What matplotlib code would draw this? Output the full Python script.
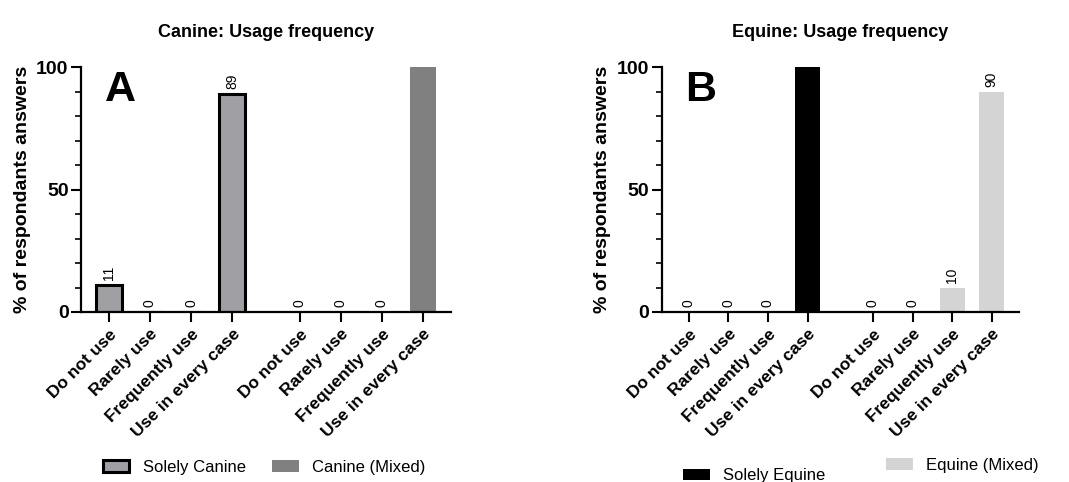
import numpy as np
import matplotlib
matplotlib.use("Agg")
import matplotlib.pyplot as plt
from matplotlib.patches import Patch
from matplotlib.ticker import MultipleLocator

plt.rcParams['font.family'] = ['Liberation Sans', 'DejaVu Sans']

categories = ['Do not use', 'Rarely use', 'Frequently use', 'Use in every case']

canine_solely = [11, 0, 0, 89]
canine_mixed = [0, 0, 0, 100]
equine_solely = [0, 0, 0, 100]
equine_mixed = [0, 0, 10, 90]

GAP = 1.65
x1 = np.arange(4)
x2 = np.arange(4) + 3 + GAP


def draw(ax, solely, mixed, c_solely, c_mixed, edge_solely, title, letter):
    ax.bar(x1, solely, width=0.64, color=c_solely,
           edgecolor='black' if edge_solely else c_solely,
           linewidth=2.2 if edge_solely else 0)
    ax.bar(x2, mixed, width=0.64, color=c_mixed, linewidth=0)

    for xs, vals in [(x1, solely), (x2, mixed)]:
        for x, v in zip(xs, vals):
            if v < 100:
                ax.text(x, v + 2, str(v), rotation=90, ha='center', va='bottom',
                        fontsize=10)

    ax.set_xlim(-0.68, x2[-1] + 0.68)
    ax.set_ylim(0, 100)
    ax.set_xticks(np.concatenate([x1, x2]))
    ax.set_xticklabels(categories * 2, rotation=45, ha='right',
                       rotation_mode='anchor', fontsize=12.5, fontweight='bold')
    ax.set_yticks([0, 50, 100])
    ax.yaxis.set_minor_locator(MultipleLocator(10))
    ax.tick_params(axis='y', labelsize=14, width=1.5, length=7, pad=2)
    ax.tick_params(axis='y', which='minor', width=1.2, length=4)
    ax.tick_params(axis='x', width=1.5, length=7)
    for lab in ax.get_yticklabels():
        lab.set_fontweight('bold')
    ax.spines['top'].set_visible(False)
    ax.spines['right'].set_visible(False)
    ax.spines['left'].set_linewidth(1.6)
    ax.spines['bottom'].set_linewidth(1.6)
    ax.set_ylabel('% of respondants answers', fontsize=14, fontweight='bold',
                  labelpad=4)
    ax.set_title(title, fontsize=13, fontweight='bold', pad=22)
    ax.text(0.065, 0.99, letter, transform=ax.transAxes, fontsize=31,
            fontweight='bold', va='top', ha='left')


fig = plt.figure(figsize=(10.69, 4.82), dpi=100)
ax1 = fig.add_axes([0.0758, 0.3527, 0.346, 0.508])
ax2 = fig.add_axes([0.619, 0.3527, 0.334, 0.508])

draw(ax1, canine_solely, canine_mixed, '#a0a0a4', '#808080', True,
     'Canine: Usage frequency', 'A')
draw(ax2, equine_solely, equine_mixed, '#000000', '#d4d4d4', False,
     'Equine: Usage frequency', 'B')

# legends
fig.legend(handles=[Patch(facecolor='#a0a0a4', edgecolor='black', linewidth=2.2,
                          label='Solely Canine'),
                    Patch(facecolor='#808080', label='Canine (Mixed)')],
           loc='center left', bbox_to_anchor=(0.082, 0.03), ncol=2, frameon=False,
           fontsize=12, handlelength=1.6, handleheight=0.7, columnspacing=1.6)
fig.legend(handles=[Patch(facecolor='black', label='Solely Equine')],
           loc='center left', bbox_to_anchor=(0.625, 0.013), frameon=False,
           fontsize=12, handlelength=1.6, handleheight=0.7)
fig.legend(handles=[Patch(facecolor='#d4d4d4', label='Equine (Mixed)')],
           loc='center left', bbox_to_anchor=(0.815, 0.035), frameon=False,
           fontsize=12, handlelength=1.6, handleheight=0.7)

fig.savefig('out.png', dpi=100)
